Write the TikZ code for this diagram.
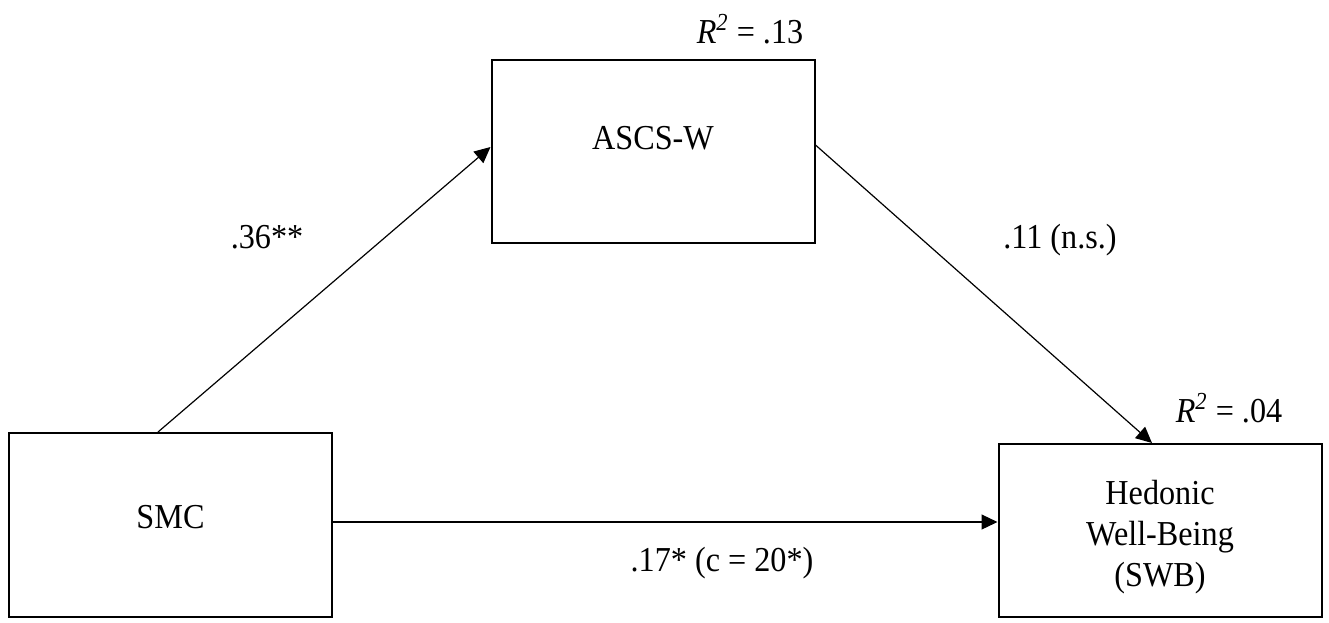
\documentclass[tikz,border=0pt]{standalone}
\usepackage{fontspec}
\setmainfont[FakeStretch=0.92]{Liberation Serif}
\usetikzlibrary{arrows.meta,positioning}

\begin{document}
\begin{tikzpicture}[
    x=0.5pt,y=-0.5pt,
    >={Triangle[length=8pt,width=7.5pt]},
    font=\fontsize{17.5}{20.5}\selectfont,
    var/.style={
      draw,line width=1pt,minimum width=161.5pt,
      minimum height=92pt,align=center,inner sep=0pt
    },
    effect/.style={->,line width=0.6pt}
  ]
  \useasboundingbox (0,0) rectangle (1329,622);
  \node[var,text depth=8pt] (smc) at (170.5,525) {SMC};
  \node[var,minimum height=91.5pt,text depth=14pt] (ascs) at (653,151.5) {ASCS-W};
  \node[var,minimum height=86.5pt] (hwb) at (1160,530.5)
    {\rule{0pt}{19pt}Hedonic\\Well-Being\\(SWB)};
  \node (rascs) at (750,29) {{\itshape R\textsuperscript{2}} = .13};
  \node (rhwb) at (1229,408) {{\itshape R\textsuperscript{2}} = .04};
  \coordinate (direct) at ([yshift=1.5pt]smc.east);
  \draw[effect] ([xshift=-6.25pt]smc.north) -- ([yshift=2.25pt]ascs.west);
  \draw[effect] ([yshift=3.25pt]ascs.east) -- ([xshift=-4pt]hwb.north);
  \draw[effect] (direct) -- (direct -| hwb.west);
  \node (a) at (267,237) {.36**};
  \node (b) at (1060,240) {.11 (n.s.)};
  \node (c) at (722,563) {.17* (c = 20*)};
\end{tikzpicture}
\end{document}
